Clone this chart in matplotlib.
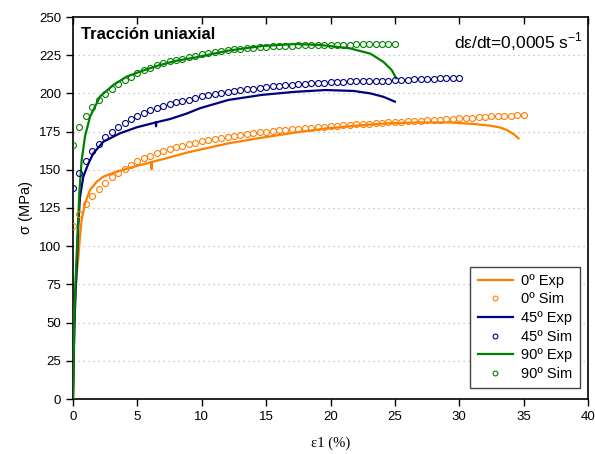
import numpy as np
import matplotlib
matplotlib.use("Agg")
import matplotlib.pyplot as plt

# ---------------- data ----------------
sim_step = 0.5
sim0_y = [113, 121, 127.5, 133, 137.2, 141.4, 145.2, 148.1, 150.6, 153.3, 155.6, 157.4, 159.1, 160.7,
          162.2, 163.4, 164.6, 165.8, 166.9, 167.8, 168.6, 169.4, 170.2, 171, 171.7, 172.3, 172.9,
          173.5, 174, 174.5, 175, 175.4, 175.8, 176.2, 176.6, 177, 177.3, 177.6, 177.9, 178.2, 178.5,
          178.8, 179.1, 179.4, 179.7, 180, 180.3, 180.6, 180.9, 181.2, 181.4, 181.6, 181.8, 182, 182.2,
          182.4, 182.6, 182.9, 183.2, 183.4, 183.6, 183.8, 184, 184.3, 184.6, 184.9, 185.1, 185.3,
          185.5, 185.8, 186]
sim45_y = [138, 148, 156, 162, 167, 171.4, 175, 178.2, 180.9, 183.2, 185.4, 187.5, 189.1, 190.5, 191.7,
           192.9, 194.1, 195, 196, 197.2, 198, 198.7, 199.4, 200.1, 200.8, 201.4, 202, 202.6, 203.2,
           203.7, 204.2, 204.6, 205, 205.4, 205.8, 206.1, 206.4, 206.7, 206.9, 207.1, 207.3, 207.5,
           207.7, 207.8, 207.9, 208, 208.1, 208.2, 208.3, 208.4, 208.5, 208.7, 208.9, 209.1, 209.3,
           209.5, 209.7, 209.8, 210, 210.1, 210.3]
sim90_y = [166, 178, 185, 190.8, 195.8, 199.4, 202.8, 206.3, 209, 211, 213.2, 215, 216.8, 218.6, 220,
           221, 222, 222.7, 223.6, 224.6, 225.5, 226.3, 227, 227.7, 228.3, 228.8, 229.2, 229.6, 229.9,
           230.2, 230.5, 230.7, 230.9, 231.1, 231.3, 231.4, 231.5, 231.6, 231.7, 231.8, 231.9, 232, 232,
           232, 232.1, 232.1, 232.1, 232.2, 232.2, 232.2, 232.2]

exp0_x = [0, 0.1, 0.2, 0.3, 0.41, 0.55, 0.67, 0.93, 1.32, 1.84, 2.36, 3.0, 3.65, 4.95, 6.08, 6.1, 6.12,
          7.53, 8.83, 9.86, 12.06, 14.65, 17.2, 19.6, 21.8, 24.4, 26.95, 29.3, 31.1, 32.4, 33.2, 33.7,
          34.2, 34.6]
exp0_y = [0, 50, 72, 83, 92, 107, 117, 128, 136.8, 142.2, 145.5, 147.6, 149.4, 152.5, 155, 150.3, 155.1,
          158.2, 161.2, 163.2, 167.3, 171, 174.3, 177, 178.7, 180.4, 181, 181, 180, 178.9, 177.6, 176,
          173.5, 170.6]
exp45_x = [0, 0.1, 0.2, 0.3, 0.4, 0.54, 0.8, 1.19, 1.58, 2.36, 3.65, 4.95, 6.43, 6.45, 6.47, 7.53, 8.83,
           9.86, 12.06, 14.65, 17.2, 19.6, 21.8, 23.1, 24.1, 25.0]
exp45_y = [0, 45, 70, 88, 112, 132, 145.5, 154, 160.8, 168.4, 173.9, 177.8, 181, 178.5, 181.1, 183.2,
           186.8, 190.3, 195.7, 199, 201, 202.2, 201.6, 200, 197.8, 194.6]
exp90_x = [0, 0.1, 0.2, 0.29, 0.49, 0.67, 0.93, 1.32, 2.1, 3.13, 4.17, 5.46, 6.76, 8.05, 9.5, 12.06,
           14.65, 17.2, 19.2, 21.5, 23.1, 24.1, 24.75, 25.1]
exp90_y = [0, 50, 78, 95, 134.6, 156, 171.7, 184.7, 198, 205.5, 211, 215, 218.6, 221.4, 223.5, 228,
           231, 232.3, 231.7, 229.5, 226, 220.7, 215.3, 210]

x_ticks = [0, 5, 10, 15, 20, 25, 30, 35, 40]
y_ticks = [0, 25, 50, 75, 100, 125, 150, 175, 200, 225, 250]

c0, c45, c90 = "#FF7F00", "#000080", "#008000"

# ---------------- figure ----------------
plt.rcParams['font.family'] = ['Liberation Sans', 'DejaVu Sans']
fig = plt.figure(figsize=(5.95, 4.54), dpi=100)
ax = fig.add_axes([73 / 595, 55 / 454, 515 / 595, 382 / 454])

ax.set_xlim(0, 40)
ax.set_ylim(0, 250)

for y in y_ticks[1:-1]:
    ax.axhline(y, color="#BBBBBB", lw=0.9, ls=(0, (1, 3)), zorder=0)

sx0 = np.arange(len(sim0_y)) * sim_step
sx45 = np.arange(len(sim45_y)) * sim_step
sx90 = np.arange(len(sim90_y)) * sim_step

mk = dict(ls="none", marker="o", ms=4.3, mfc="none", mew=0.8)
ax.plot(exp0_x, exp0_y, color=c0, lw=1.6, label="0º Exp", zorder=3)
ax.plot(sx0, sim0_y, color=c0, label="0º Sim", zorder=4, **mk)
ax.plot(exp45_x, exp45_y, color=c45, lw=1.6, label="45º Exp", zorder=3)
ax.plot(sx45, sim45_y, color=c45, label="45º Sim", zorder=4, **mk)
ax.plot(exp90_x, exp90_y, color=c90, lw=1.6, label="90º Exp", zorder=3)
ax.plot(sx90, sim90_y, color=c90, label="90º Sim", zorder=4, **mk)

ax.set_xticks(x_ticks)
ax.set_yticks(y_ticks)
ax.tick_params(axis="both", which="major", direction="out", length=5, width=1, labelsize=9.5, color="black")
ax.xaxis.set_tick_params(which="major", top=True)
for t in ax.xaxis.get_major_ticks():
    t.tick2line.set_marker(3)  # inward at top
    t.tick2line.set_markersize(5)
for s in ax.spines.values():
    s.set_linewidth(1.2)

ax.set_xlabel("ε1 (%)", fontsize=10.5, family=["Liberation Serif", "DejaVu Serif"], labelpad=10)
ax.set_ylabel("σ (MPa)", fontsize=10.5, labelpad=4)

ax.text(0.015, 0.975, "Tracción uniaxial", transform=ax.transAxes, fontsize=12, fontweight="bold",
        ha="left", va="top")
ax.text(0.99, 0.965, r"d$\mathregular{\varepsilon}$/dt=0,0005 s$^{\mathregular{-1}}$", transform=ax.transAxes,
        fontsize=12.5, ha="right", va="top")

leg = ax.legend(loc="lower right", bbox_to_anchor=(0.99, 0.02), fontsize=10.5, frameon=True, fancybox=False,
                framealpha=1, edgecolor="#444444", handlelength=2.4, handletextpad=0.6, borderpad=0.5,
                labelspacing=0.32, numpoints=1, markerscale=0.8, borderaxespad=0.2)
leg.get_frame().set_linewidth(1.0)

fig.savefig("out.png", dpi=100)
